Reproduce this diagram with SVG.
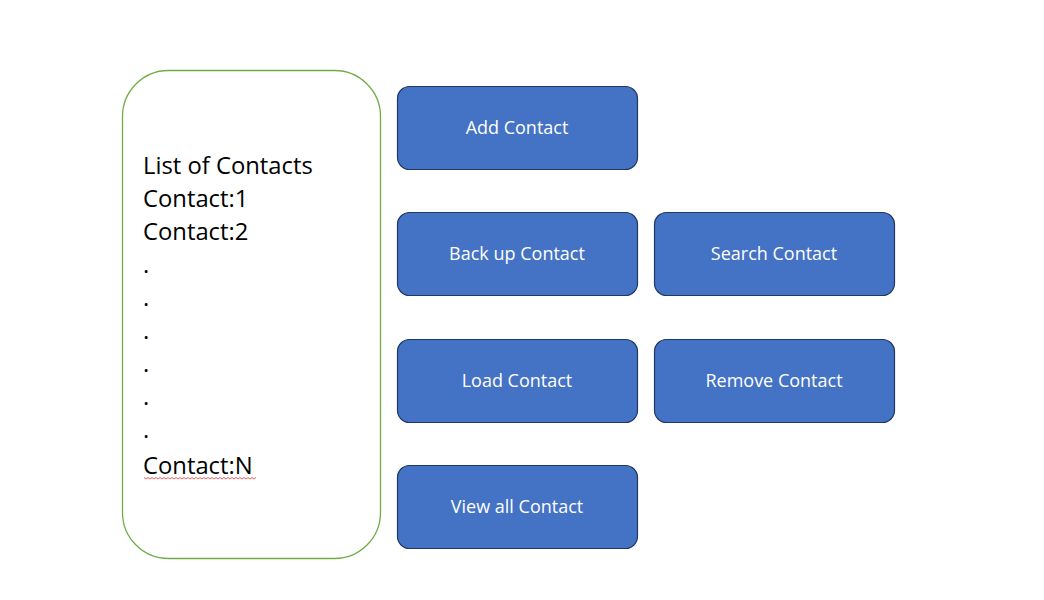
<svg xmlns="http://www.w3.org/2000/svg" width="1044" height="600" viewBox="0 0 1044 600">
<style>
.btn{fill:#4472C4;stroke:#203864;stroke-width:1.2}
.bt{font-family:"Open Sans","Noto Sans",sans-serif;font-size:18px;fill:#fff;text-anchor:middle}
.lt{font-family:"Open Sans","Noto Sans",sans-serif;font-size:23.8px;fill:#000}
</style>
<rect width="1044" height="600" fill="#fff"/>
<g id="list">
<rect x="122.5" y="70.5" width="258" height="488" rx="46" ry="46" fill="#fff" stroke="#70AD47" stroke-width="1.3"/>
<text class="lt" x="143" y="174">List of Contacts</text>
<text class="lt" x="143" y="207">Contact:1</text>
<text class="lt" x="143" y="240">Contact:2</text>
<text class="lt" x="143" y="273">.</text>
<text class="lt" x="143" y="306">.</text>
<text class="lt" x="143" y="339">.</text>
<text class="lt" x="143" y="372">.</text>
<text class="lt" x="143" y="405">.</text>
<text class="lt" x="143" y="438">.</text>
<text class="lt" x="143" y="474">Contact:N</text>
<path d="M144 477.5 l2 1.5 l2 -1.5 l2 1.5 l2 -1.5 l2 1.5 l2 -1.5 l2 1.5 l2 -1.5 l2 1.5 l2 -1.5 l2 1.5 l2 -1.5 l2 1.5 l2 -1.5 l2 1.5 l2 -1.5 l2 1.5 l2 -1.5 l2 1.5 l2 -1.5 l2 1.5 l2 -1.5 l2 1.5 l2 -1.5 l2 1.5 l2 -1.5 l2 1.5 l2 -1.5 l2 1.5 l2 -1.5 l2 1.5 l2 -1.5 l2 1.5 l2 -1.5 l2 1.5 l2 -1.5 l2 1.5 l2 -1.5 l2 1.5 l2 -1.5 l2 1.5 l2 -1.5 l2 1.5 l2 -1.5 l2 1.5 l2 -1.5 l2 1.5 l2 -1.5 l2 1.5 l2 -1.5 l2 1.5 l2 -1.5 l2 1.5 l2 -1.5 l2 1.5 l2 -1.5" fill="none" stroke="#E53935" stroke-width="0.8"/>
</g>
<g id="add"><rect class="btn" x="397.5" y="86.5" width="240" height="83" rx="12"/><text class="bt" x="517" y="133.5">Add Contact</text></g>
<g id="backup"><rect class="btn" x="397.5" y="212.5" width="240" height="83" rx="12"/><text class="bt" x="517" y="259.5">Back up Contact</text></g>
<g id="search"><rect class="btn" x="654.5" y="212.5" width="240" height="83" rx="12"/><text class="bt" x="774" y="259.5">Search Contact</text></g>
<g id="load"><rect class="btn" x="397.5" y="339.5" width="240" height="83" rx="12"/><text class="bt" x="517" y="386.5">Load Contact</text></g>
<g id="remove"><rect class="btn" x="654.5" y="339.5" width="240" height="83" rx="12"/><text class="bt" x="774" y="386.5">Remove Contact</text></g>
<g id="viewall"><rect class="btn" x="397.5" y="465.5" width="240" height="83" rx="12"/><text class="bt" x="517" y="512.5">View all Contact</text></g>
<g id="connectors"></g>
</svg>
